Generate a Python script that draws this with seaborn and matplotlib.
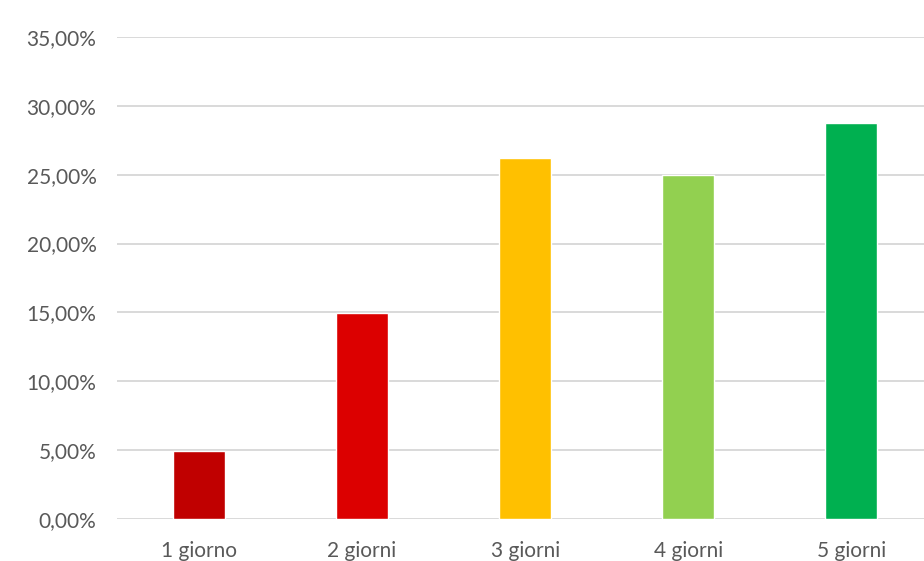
import seaborn as sns
import matplotlib.pyplot as plt
import pandas as pd
from matplotlib.ticker import FuncFormatter

# Values
categories = ['1 giorno', '2 giorni', '3 giorni', '4 giorni', '5 giorni']
percentages = [4.95, 14.95, 26.2, 25.0, 28.75]
bar_colors = ['#C00000', '#DC0000', '#FFC000', '#92D050', '#00B050']
y_ticks = [0, 5, 10, 15, 20, 25, 30, 35]

df = pd.DataFrame({'giorni': categories, 'percentuale': percentages})

sns.set_style('white')
plt.rcParams['font.family'] = ['Lato', 'DejaVu Sans']

fig = plt.figure(figsize=(9.24, 5.61), dpi=100)
ax = fig.add_axes([0.127, 0.075, 0.8826, 0.859])

sns.barplot(data=df, x='giorni', y='percentuale', hue='giorni',
            palette=bar_colors, saturation=1, width=0.32, legend=False,
            ax=ax, zorder=3)

ax.set_ylim(0, 35)
ax.set_yticks(y_ticks)
ax.yaxis.set_major_formatter(FuncFormatter(lambda v, _: f'{v:.2f}'.replace('.', ',') + '%'))
ax.grid(axis='y', color='#D9D9D9', linewidth=1.4, zorder=0)
ax.set_axisbelow(True)
for s in ax.spines.values():
    s.set_visible(False)

ax.tick_params(axis='both', length=0, labelsize=15, labelcolor='#595959')
ax.tick_params(axis='y', pad=15)
ax.tick_params(axis='x', pad=16)
ax.set_xlabel('')
ax.set_ylabel('')

fig.savefig('out.png', dpi=100)
